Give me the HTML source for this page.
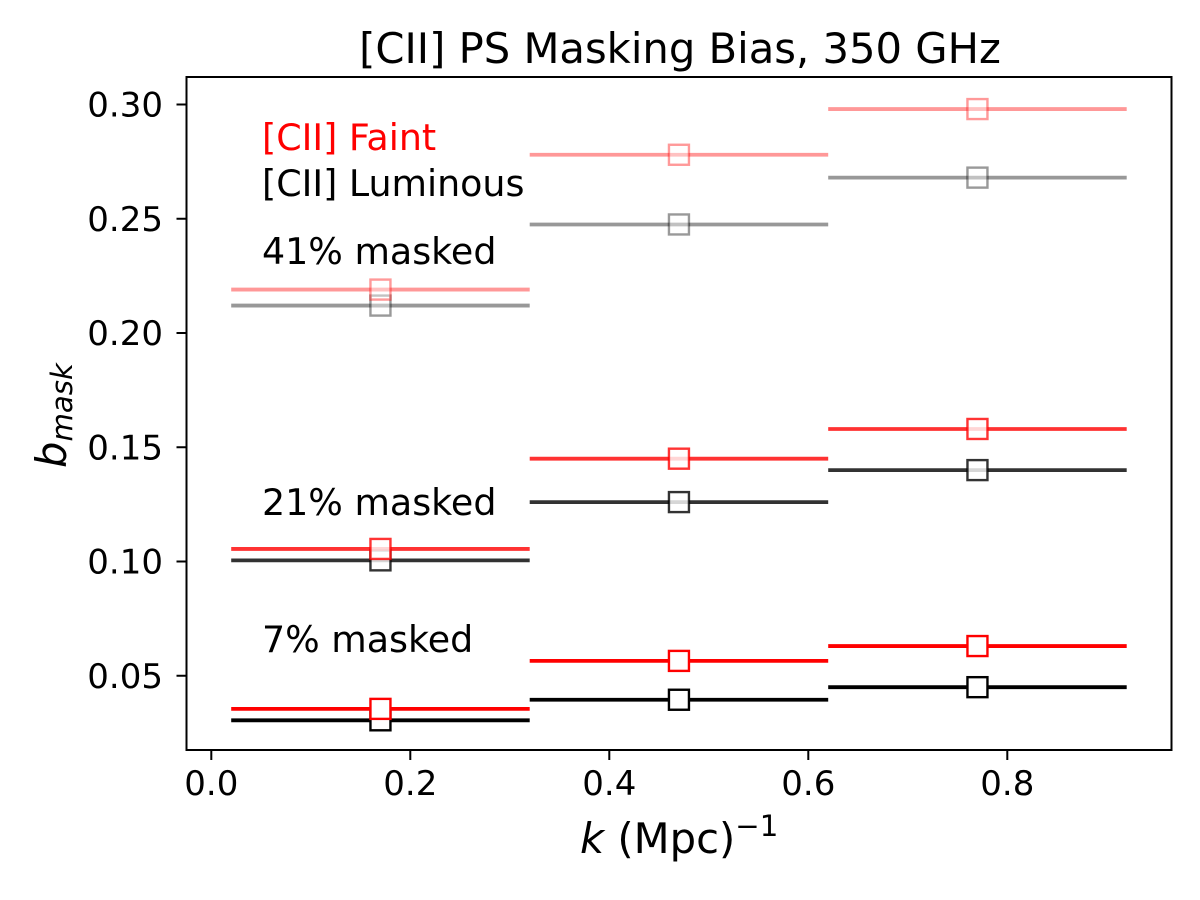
<!DOCTYPE html>
<html>
<head>
<meta charset="utf-8">
<style>
html,body{margin:0;padding:0;background:#fff;}
svg{display:block;}
text{font-family:"DejaVu Sans","Liberation Sans",sans-serif;fill:#000;}
</style>
</head>
<body>
<svg id="chart" width="1200" height="900" viewBox="0 0 1200 900" xmlns="http://www.w3.org/2000/svg">
<rect x="0" y="0" width="1200" height="900" fill="#fff"/>
<text x="680" y="63" font-size="41.7" text-anchor="middle">[CII] PS Masking Bias, 350 GHz</text>
<g id="marks"></g>
<rect x="186.5" y="77" width="985" height="673" fill="none" stroke="#000" stroke-width="2"/>
<g id="ticks"></g>
<text x="262" y="150" font-size="36.4" style="fill:#f00">[CII] Faint</text>
<text x="262" y="196" font-size="36.4">[CII] Luminous</text>
<text x="262" y="264" font-size="36.4">41% masked</text>
<text x="262" y="515" font-size="36.4">21% masked</text>
<text x="262" y="652" font-size="36.4">7% masked</text>
<text x="580" y="853" font-size="41.7"><tspan font-style="italic">k</tspan> (Mpc)<tspan font-size="29.2" dy="-17">−1</tspan></text>
<text transform="translate(66,468) rotate(-90)" font-size="41.7"><tspan font-style="italic">b</tspan><tspan font-style="italic" font-size="29.2" dy="6">mask</tspan></text>
</svg>
<script>
var binEdges = [0.02, 0.32, 0.62, 0.92];
var faint41 = [0.219, 0.278, 0.298];
var lum41 = [0.212, 0.2475, 0.268];
var faint21 = [0.1055, 0.145, 0.158];
var lum21 = [0.1005, 0.126, 0.14];
var faint7 = [0.0355, 0.0565, 0.063];
var lum7 = [0.0305, 0.0395, 0.045];
var xTickValues = [0.0, 0.2, 0.4, 0.6, 0.8];
var xTickLabels = ["0.0", "0.2", "0.4", "0.6", "0.8"];
var yTickValues = [0.05, 0.10, 0.15, 0.20, 0.25, 0.30];
var yTickLabels = ["0.05", "0.10", "0.15", "0.20", "0.25", "0.30"];

var NS = 'http://www.w3.org/2000/svg';
function xScale(v) { return 211.3 + v * 995; }
function yScale(v) { return 104.5 + (0.30 - v) * 2285; }
function make(parent, tag, attrs) {
  var el = document.createElementNS(NS, tag);
  for (var k in attrs) { el.setAttribute(k, attrs[k]); }
  parent.appendChild(el);
  return el;
}
var marks = document.getElementById('marks');
var ticks = document.getElementById('ticks');

function drawSeries(values, color, alpha, seriesName) {
  for (var i = 0; i < values.length; i++) {
    var x0 = xScale(binEdges[i]);
    var x1 = xScale(binEdges[i + 1]);
    var xc = (x0 + x1) / 2;
    var y = yScale(values[i]);
    var line = make(marks, 'line', { x1: x0, x2: x1, y1: y, y2: y, stroke: color, 'stroke-width': 3.8, opacity: alpha });
    
    
    var sq = make(marks, 'rect', { x: xc - 10, y: y - 10, width: 20, height: 20, fill: '#fff', 'fill-opacity': alpha, stroke: color, 'stroke-opacity': alpha, 'stroke-width': 2.4 });
    
    
  }
}
drawSeries(lum41, '#000', 0.4, 'luminous-41');
drawSeries(faint41, '#f00', 0.4, 'faint-41');
drawSeries(lum21, '#000', 0.8, 'luminous-21');
drawSeries(faint21, '#f00', 0.8, 'faint-21');
drawSeries(lum7, '#000', 1, 'luminous-7');
drawSeries(faint7, '#f00', 1, 'faint-7');

xTickValues.forEach(function (v, i) {
  var x = xScale(v);
  var t = make(ticks, 'line', { x1: x, x2: x, y1: 750, y2: 760, stroke: '#000', 'stroke-width': 2 });
  
  
  var l = make(ticks, 'text', { x: x, y: 795, 'font-size': 34, 'text-anchor': 'middle' });
  l.textContent = xTickLabels[i];
  
  
});
yTickValues.forEach(function (v, i) {
  var y = yScale(v);
  var t = make(ticks, 'line', { x1: 176.5, x2: 186.5, y1: y, y2: y, stroke: '#000', 'stroke-width': 2 });
  
  
  var l = make(ticks, 'text', { x: 163, y: y + 12, 'font-size': 34, 'text-anchor': 'end' });
  l.textContent = yTickLabels[i];
  
  
});
</script>
</body>
</html>
